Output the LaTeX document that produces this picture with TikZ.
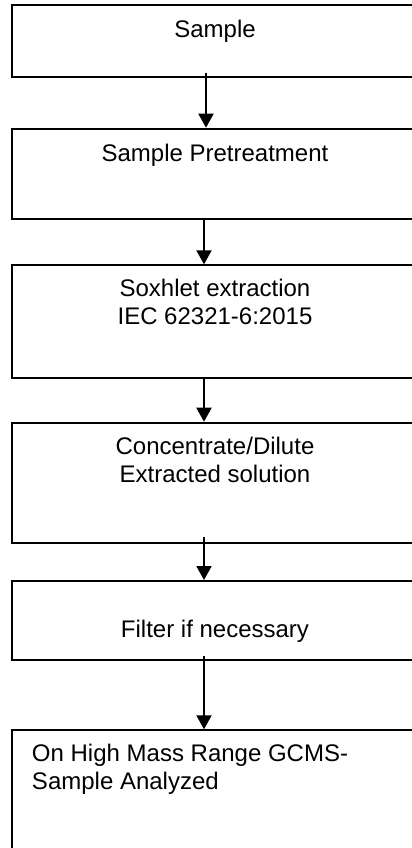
\documentclass[tikz,border=0pt]{standalone}
\usepackage{fontspec}
\setmainfont{Liberation Sans}
\usepackage{tikz}
\usetikzlibrary{arrows.meta,positioning}

\begin{document}
\begin{tikzpicture}[x=1pt,y=1pt,
  bx/.style={draw,line width=1pt,anchor=north west,minimum width=204pt,inner sep=0pt},
  tx/.style={anchor=north,inner sep=0pt,align=center,font=\fontsize{12}{14}\selectfont},
  ar/.style={-{Triangle[length=7pt,width=7.5pt]},line width=1pt}]
\useasboundingbox (0,0) rectangle (206,-424);
\clip (0,0) rectangle (206,-424);
% boxes
\node[bx,minimum height=35.85pt] (s1) at (5.5,-2)      {};
\node[bx,minimum height=45pt]    (s2) at (5.5,-63.85)  {};
\node[bx,minimum height=56.2pt]  (s3) at (5.5,-132.15) {};
\node[bx,minimum height=60pt]    (s4) at (5.5,-210.85) {};
\node[bx,minimum height=39.65pt] (s5) at (5.5,-290)    {};
\node[bx,minimum height=80pt]    (s6) at (5.5,-364.65) {};
% texts
\node[tx] (t1) at (107.5,-9.9)   {Sample};
\node[tx] (t2) at (107.5,-71.7)  {Sample Pretreatment};
\node[tx] (t3) at (107.5,-139.5) {Soxhlet extraction\\IEC 62321-6:2015};
\node[tx] (t4) at (107.5,-218.4) {Concentrate/Dilute\\Extracted solution};
\node[tx] (t5) at (107.5,-309.9) {Filter if necessary};
\node[tx,anchor=north west,align=left] (t6) at (15.8,-372)
  {On High Mass Range GCMS-\\Sample Analyzed};
% arrows
\draw[ar] ([xshift=-5pt,yshift=2.5pt]s1.south) -- ([xshift=-5pt]s2.north);
\draw[ar] ([xshift=-6pt]s2.south) -- ([xshift=-6pt]s3.north);
\draw[ar] ([xshift=-6pt]s3.south) -- ([xshift=-6pt]s4.north);
\draw[ar] ([xshift=-6pt,yshift=3.5pt]s4.south) -- ([xshift=-6pt]s5.north);
\draw[ar] ([xshift=-6pt,yshift=2.5pt]s5.south) -- ([xshift=-6pt]s6.north);
\end{tikzpicture}
\end{document}
